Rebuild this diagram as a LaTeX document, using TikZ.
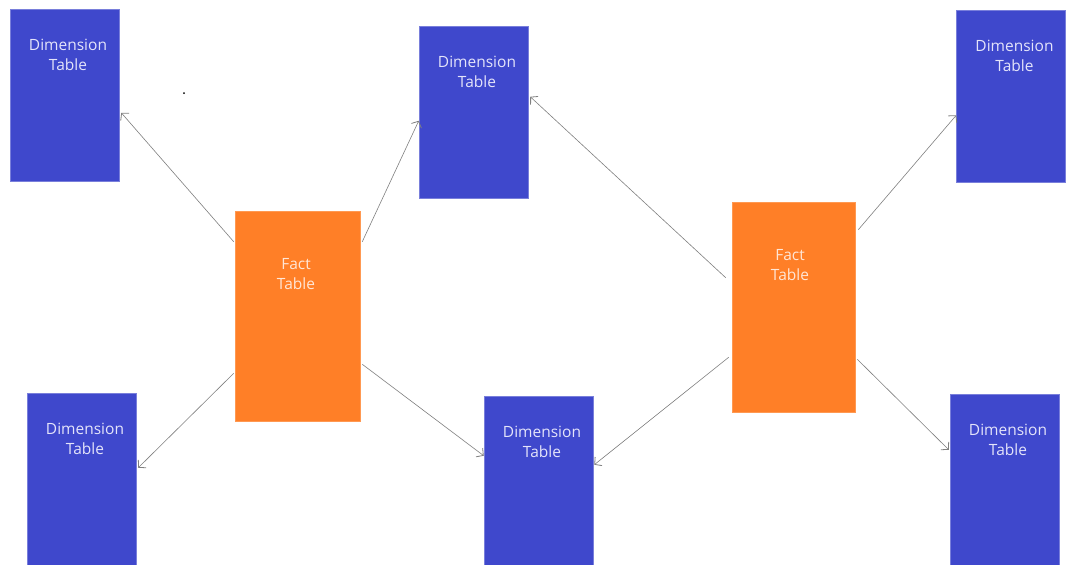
\documentclass[tikz,border=0pt]{standalone}
\usepackage{fontspec}
\setmainfont{Open Sans}
\usetikzlibrary{arrows.meta,calc}
\definecolor{dimblue}{HTML}{3F48CC}
\definecolor{factorange}{HTML}{FF7F27}
\definecolor{linkgray}{HTML}{808080}
\definecolor{dimtext}{HTML}{E4E4FA}
\definecolor{facttext}{HTML}{FFE6D6}
\begin{document}
\begin{tikzpicture}[x=1pt,y=-1pt,
  dimbox/.style={fill=dimblue,draw=dimblue!70!white,line width=0.5pt,minimum width=109pt,minimum height=172pt,inner sep=0pt},
  factbox/.style={fill=factorange,draw=factorange!80!white,line width=0.5pt,minimum height=210pt,inner sep=0pt},
  boxlabel/.style={font=\fontsize{15.5}{20}\selectfont,align=center,anchor=north,inner sep=0pt},
  link/.style={draw=linkgray,line width=0.6pt,-{Straight Barb[length=5pt,width=11pt,line width=0.8pt]}}
]
\useasboundingbox (0,0) rectangle (1066,565);
\fill[white] (0,0) rectangle (1066,565);

% dimension tables
\node[dimbox] (d1) at (64.5,95) {};
\node[dimbox] (d2) at (473.5,112) {};
\node[dimbox] (d3) at (1011,96.5) {};
\node[dimbox] (d4) at (81.5,479) {};
\node[dimbox] (d5) at (538.5,482) {};
\node[dimbox] (d6) at (1004.5,480) {};

% fact tables
\node[factbox,minimum width=125pt] (f1) at (297.5,316) {};
\node[factbox,minimum width=123pt] (f2) at (793.5,307) {};

% labels
\foreach \b in {d1,d2,d3,d4,d5,d6}{
  \node[boxlabel,text=dimtext] (\b t) at ($(\b.north)+(3.5,30)$) {Dimension\\Table};
}
\node[boxlabel,text=facttext] (f1t) at ($(f1.north)+(-1.5,47)$) {Fact\\Table};
\node[boxlabel,text=facttext] (f2t) at ($(f2.north)+(-3.5,47)$) {Fact\\Table};

% stray dot
\fill[black] (184,93) circle (1pt);

% connectors
\draw[link] ($(f1.north west)+(-1,31)$) -- ($(d1.north east)+(2,104)$);
\draw[link] ($(f1.north east)+(2,31)$) -- ($(d2.north west)+(0,95)$);
\draw[link] ($(f1.south west)+(-1,-48)$) -- ($(d4.north east)+(2,75)$);
\draw[link] ($(f1.south east)+(2,-57)$) -- ($(d5.north west)+(0,60)$);
\draw[link] ($(f2.north west)+(-6,76)$) -- ($(d2.north east)+(2,71)$);
\draw[link] ($(f2.north east)+(3,28)$) -- ($(d3.north west)+(0,105)$);
\draw[link] ($(f2.south west)+(-3,-55)$) -- ($(d5.north east)+(1,69)$);
\draw[link] ($(f2.south east)+(2,-53)$) -- ($(d6.north west)+(-1,56)$);
\end{tikzpicture}
\end{document}
